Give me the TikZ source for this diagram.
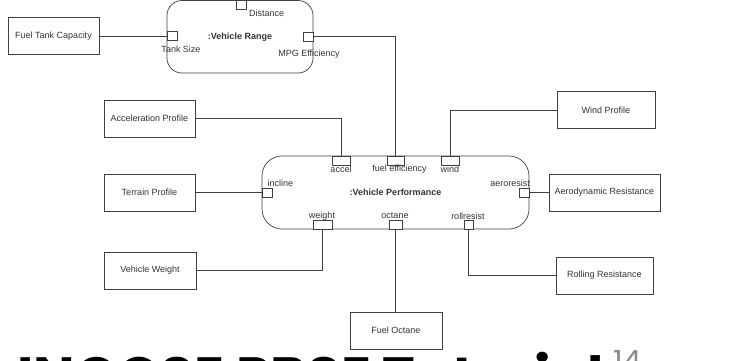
\documentclass[tikz,border=0pt]{standalone}
\usepackage{fontspec}
\setmainfont{Liberation Sans}
\newfontfamily\titlefont{Poppins}
\begin{document}
\begin{tikzpicture}[x=1pt, y=-1pt,
  every node/.style={font=\fontsize{9}{10}\selectfont, text=black!80, inner sep=0pt},
  block/.style={draw=black!75, line width=0.7pt, rectangle, minimum width=#1, minimum height=37pt},
  part/.style={draw=black!75, line width=0.7pt, rectangle, rounded corners=#1, font=\fontsize{9}{10}\selectfont\bfseries},
  port/.style={draw=black!75, line width=0.7pt, fill=white, rectangle, minimum width=#1, minimum height=9pt},
  wire/.style={draw=black!75, line width=0.7pt},
  portlabel/.style={font=\fontsize{9}{10}\selectfont}
]
\useasboundingbox (0,0) rectangle (732,361);
\clip (0,0) rectangle (732,361);

% external blocks
\node[block=91pt]  (ftc)     at (53.5,36)    {Fuel Tank Capacity};
\node[block=91pt]  (accp)    at (149.5,118.5) {Acceleration Profile};
\node[block=91pt]  (terrain) at (149.5,192.5) {Terrain Profile};
\node[block=92pt]  (vw)      at (150,270.5)  {Vehicle Weight};
\node[block=92pt]  (foct)    at (396,330.5)  {Fuel Octane};
\node[block=98pt]  (windb)   at (606,110)    {Wind Profile};
\node[block=111pt] (aerob)   at (604.5,192.5) {Aerodynamic Resistance};
\node[block=97pt]  (rollb)   at (604.5,275.5) {Rolling Resistance};

% parts
\node[part=15pt, minimum width=146pt, minimum height=72.5pt] (vr) at (240,36.75) {:Vehicle Range};
\node[part=20pt, minimum width=267pt, minimum height=73pt]   (vp) at (395.5,192.5) {:Vehicle Performance};

% ports of :Vehicle Range
\node[port=10pt, minimum height=8.5pt] (pdist) at (241,4.75) {};
\node[port=10pt]  (ptank)   at (172,36)     {};
\node[port=9.5pt] (pmpg)    at (308.5,36.5) {};

% ports of :Vehicle Performance
\node[port=18pt]  (paccel)  at (341,160.5)  {};
\node[port=17pt]  (pfuel)   at (395.5,160.5) {};
\node[port=18pt]  (pwind)   at (450,160.5)  {};
\node[port=10pt]  (pincl)   at (267,192.5)  {};
\node[port=10pt]  (paero)   at (524,192.5)  {};
\node[port=19pt, minimum height=8.5pt] (pweight) at (322.5,225) {};
\node[port=13pt, minimum height=8.5pt] (poct)    at (395.5,225) {};
\node[port=9pt, minimum height=8.5pt]  (proll)   at (468.5,225) {};

% port labels
\node[portlabel, anchor=west] (ldist) at (249,13)   {Distance};
\node[portlabel] (ltank)  at (181,49)    {Tank Size};
\node[portlabel] (lmpg)   at (309,54)    {MPG Efficiency};
\node[portlabel] (laccel) at (341,169)   {accel};
\node[portlabel] (lfuel)  at (399.5,169) {fuel efficiency};
\node[portlabel] (lwind)  at (450,169)   {wind};
\node[portlabel, anchor=west] (lincl) at (267.5,183) {incline};
\node[portlabel, anchor=east] (laero) at (530,183)   {aeroresist};
\node[portlabel] (lweight) at (322,216)  {weight};
\node[portlabel] (loct)    at (395,216)  {octane};
\node[portlabel] (lroll)   at (468,216)  {rollresist};

% connectors
\draw[wire] (ftc.east) -- (ptank.west);
\draw[wire] (pmpg.east) -| (pfuel.north);
\draw[wire] (accp.east) -| (paccel.north);
\draw[wire] (windb.west) -| (pwind.north);
\draw[wire] (terrain.east) -- (pincl.west);
\draw[wire] (paero.east) -- (aerob.west);
\draw[wire] (pweight.south) |- (vw.east);
\draw[wire] (poct.south) -- (poct.south |- foct.north);
\draw[wire] (proll.south) |- (rollb.west);

% footer title
\node[anchor=north west, text=black] (title) at (17,352)
  {\resizebox{587pt}{!}{\titlefont\bfseries INCOSE PBSE Tutorial}};
\node[anchor=north west, text=black!45] (pageno) at (613,350)
  {\resizebox{29pt}{!}{\titlefont 14}};
\end{tikzpicture}
\end{document}
